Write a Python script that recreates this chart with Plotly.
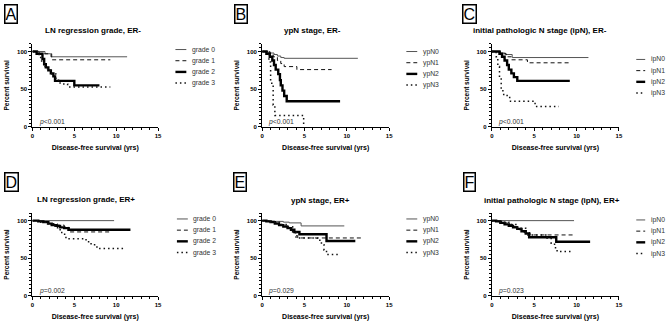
import plotly.graph_objects as go

FONT = "Liberation Sans, Arial, sans-serif"
W, H = 670, 324

# ---------------- text ----------------
panel_letters = ["A", "B", "C", "D", "E", "F"]
panel_titles = [
    "LN regression grade, ER-",
    "ypN stage, ER-",
    "initial pathologic N stage (ipN), ER-",
    "LN regression grade, ER+",
    "ypN stage, ER+",
    "initial pathologic N stage (ipN), ER+",
]
p_values = ["<0.001", "<0.001", "<0.001", "=0.002", "=0.029", "=0.023"]
grade_labels = ["grade 0", "grade 1", "grade 2", "grade 3"]
ypn_labels = ["ypN0", "ypN1", "ypN2", "ypN3"]
ipn_labels = ["ipN0", "ipN1", "ipN2", "ipN3"]
x_ticks = [0, 5, 10, 15]
y_ticks = [0, 50, 100]
x_title = "Disease-free survival (yrs)"
y_title = "Percent survival"

# ---------------- data (KM step points: time in yrs, survival %) ----------------
A_times = [
    [0, 1.5, 2.2, 11.3],
    [0, 0.8, 2.3, 9.3],
    [0, 0.5, 1.2, 1.4, 1.6, 1.9, 2.2, 2.5, 2.7, 5.0, 8.0],
    [0, 0.8, 1.1, 1.4, 1.8, 2.3, 2.8, 3.3, 4.2, 9.3],
]
A_surv = [
    [100, 97, 93, 93],
    [100, 97, 89, 89],
    [100, 97, 90, 83, 79, 75, 71, 67, 61, 55, 55],
    [100, 92, 85, 80, 75, 70, 62, 57, 53, 53],
]
B_times = [
    [0, 0.6, 1.0, 1.4, 1.8, 2.2, 2.6, 11.3],
    [0, 0.9, 1.3, 1.8, 2.2, 2.6, 4.1, 8.2],
    [0, 0.5, 0.9, 1.2, 1.4, 1.6, 1.9, 2.1, 2.2, 2.4, 2.6, 2.9, 9.2],
    [0, 0.8, 1.0, 1.3, 1.5, 4.9],
]
B_surv = [
    [100, 99, 98, 96, 94, 92, 91, 91],
    [100, 97, 93, 88, 84, 80, 76, 76],
    [100, 97, 93, 88, 82, 76, 70, 62, 55, 48, 41, 34, 34],
    [100, 86, 58, 29, 15, 0],
]
C_times = [
    [0, 1.0, 1.6, 2.4, 11.4],
    [0, 1.0, 1.7, 2.3, 4.2, 9.4],
    [0, 0.9, 1.2, 1.5, 1.8, 2.0, 2.3, 2.6, 3.0, 9.2],
    [0, 0.5, 0.7, 0.9, 1.1, 1.3, 1.8, 2.2, 5.1, 7.9],
]
C_surv = [
    [100, 98, 96, 92, 92],
    [100, 97, 93, 89, 85, 85],
    [100, 97, 93, 88, 82, 76, 71, 66, 61, 61],
    [100, 93, 80, 65, 50, 43, 39, 34, 27, 27],
]
D_times = [
    [0, 9.75],
    [0, 0.8, 1.5, 2.2, 3.0, 3.8, 4.4, 9.4],
    [0, 0.7, 1.3, 1.9, 2.3, 2.8, 3.3, 3.8, 4.3, 11.7],
    [0, 1.0, 1.8, 2.5, 3.0, 3.5, 4.0, 6.4, 7.0, 7.7, 11.0],
]
D_surv = [
    [100, 100],
    [100, 99, 98, 96, 94, 91, 85, 85],
    [100, 99, 98, 96, 94, 93, 91, 90, 88, 88],
    [100, 98, 96, 93, 88, 82, 76, 72, 68, 63, 63],
]
E_times = [
    [0, 0.8, 1.5, 2.5, 3.2, 4.6, 9.7],
    [0, 0.6, 1.2, 1.8, 2.4, 3.0, 3.5, 3.9, 4.2, 11.9],
    [0, 0.5, 1.0, 1.5, 2.0, 2.5, 3.0, 3.4, 3.8, 4.4, 7.6, 11.0],
    [0, 1.0, 2.0, 3.0, 3.6, 4.0, 6.5, 7.0, 7.3, 7.6, 9.1],
]
E_surv = [
    [100, 99.5, 99, 98, 97, 93, 93],
    [100, 99, 97, 95, 93, 90, 85, 80, 77, 77],
    [100, 99, 98, 96, 94, 92, 90, 88, 85, 82, 73, 73],
    [100, 98, 95, 92, 85, 77, 74, 68, 61, 55, 55],
]
F_times = [
    [0, 9.7],
    [0, 0.7, 1.3, 2.0, 2.6, 3.2, 3.8, 4.5, 9.75],
    [0, 0.5, 1.0, 1.5, 2.0, 2.5, 3.0, 3.5, 4.0, 4.4, 7.6, 11.6],
    [0, 1.0, 2.0, 3.0, 4.0, 6.5, 7.0, 7.4, 7.7, 9.3],
]
F_surv = [
    [100, 100],
    [100, 99, 97, 95, 92, 88, 84, 81, 81],
    [100, 99, 97, 95, 93, 91, 89, 86, 83, 78, 72, 72],
    [100, 98, 95, 90, 81, 77, 70, 64, 59, 59],
]

# ---------------- styles & layout geometry ----------------
series_styles = [
    dict(color="#555555", width=1.0, dash="solid"),
    dict(color="#111111", width=1.0, dash="4px,3px"),
    dict(color="#000000", width=2.4, dash="solid"),
    dict(color="#111111", width=1.5, dash="1.5px,3px"),
]

panels = [
    (A_times, A_surv, grade_labels),
    (B_times, B_surv, ypn_labels),
    (C_times, C_surv, ipn_labels),
    (D_times, D_surv, grade_labels),
    (E_times, E_surv, ypn_labels),
    (F_times, F_surv, ipn_labels),
]

col_x0 = [30.7, 262.5, 494.3]       # px of x=0
col_x15 = [157.5, 390.7, 622.5]     # px of x=15
row_y0 = [128.0, 298.7]             # px of y=0
row_y100 = [52.0, 222.7]            # px of y=100
Y_MAX = 110

title_pos = [(91.5, 31), (313.5, 31), (543, 31), (85, 201.5), (321, 202.5), (555, 202)]
letter_pos = [(9.5, 14), (240.8, 14), (471.3, 14), (9.3, 184), (240.6, 184), (471.3, 184)]
legend_pos = [(175, 50, 11), (408, 52, 11), (640, 60, 9), (176.5, 221, 11), (408, 221, 11), (640, 222, 9)]
LEG_GAP = 3.5
LEG_STEP = 11.3

fig = go.Figure()
axis_font = dict(family=FONT, size=6, color="black", weight="bold")

for i, (times, survs, labels) in enumerate(panels):
    r, c = divmod(i, 3)
    ax = "" if i == 0 else str(i + 1)
    x0, x15 = col_x0[c], col_x15[c]
    y0, y100 = row_y0[r], row_y100[r]
    ytop = y0 - (y0 - y100) * Y_MAX / 100
    xdom = [x0 / W, x15 / W]
    ydom = [(H - y0) / H, (H - ytop) / H]

    for k in range(4):
        st = series_styles[k]
        fig.add_trace(go.Scatter(
            x=times[k], y=survs[k], mode="lines", line_shape="hv",
            line=dict(color=st["color"], width=st["width"], dash=st["dash"]),
            name=labels[k], showlegend=False, cliponaxis=False,
            xaxis="x" + ax, yaxis="y" + ax,
        ))

    xa = dict(
        domain=xdom, anchor="y" + ax, range=[0, 15], tickvals=x_ticks,
        showline=True, linecolor="black", linewidth=1.2, ticks="outside",
        ticklen=3, tickwidth=1, tickcolor="black", tickfont=axis_font,
        showgrid=False, zeroline=False, fixedrange=True,
        minor=dict(dtick=1, ticks="outside", ticklen=2, tickcolor="black", tickwidth=0.8),
        title=dict(text=x_title, font=dict(family=FONT, size=7, color="black", weight="bold"), standoff=6),
    )
    ya = dict(
        domain=ydom, anchor="x" + ax, range=[0, Y_MAX], tickvals=y_ticks,
        showline=True, linecolor="black", linewidth=1.2, ticks="outside",
        ticklen=3, tickwidth=1, tickcolor="black", tickfont=axis_font,
        showgrid=False, zeroline=False, fixedrange=True,
        minor=dict(dtick=5, ticks="outside", ticklen=2, tickcolor="black", tickwidth=0.8),
        title=dict(text=y_title, font=dict(family=FONT, size=6.5, color="black", weight="bold"), standoff=6),
    )
    fig.update_layout(**{"xaxis" + ax: xa, "yaxis" + ax: ya})

    # panel title
    tx, ty = title_pos[i]
    fig.add_annotation(x=tx / W, y=1 - ty / H, xref="paper", yref="paper",
                       text=panel_titles[i], showarrow=False, xanchor="center", yanchor="middle",
                       font=dict(family=FONT, size=8, color="black", weight="bold"))
    # panel letter
    lx, ly = letter_pos[i]
    fig.add_annotation(x=lx / W, y=1 - ly / H, xref="paper", yref="paper",
                       text=panel_letters[i], showarrow=False, xanchor="center", yanchor="middle",
                       font=dict(family=FONT, size=16, color="black"),
                       bordercolor="black", borderwidth=1.5, borderpad=0)
    # p-value
    fig.add_annotation(x=0.5, y=6, xref="x" + ax, yref="y" + ax,
                       text="<i>p</i>" + p_values[i].replace("<", "&lt;"), showarrow=False,
                       xanchor="left", yanchor="middle",
                       font=dict(family=FONT, size=6.8, color="#333333"))
    # legend
    gx, gy, glen = legend_pos[i]
    for k in range(4):
        st = series_styles[k]
        yy = 1 - (gy + k * LEG_STEP) / H
        fig.add_shape(type="line", xref="paper", yref="paper",
                      x0=gx / W, x1=(gx + glen) / W, y0=yy, y1=yy,
                      line=dict(color=st["color"], width=st["width"], dash=st["dash"]))
        fig.add_annotation(x=(gx + glen + LEG_GAP) / W, y=yy, xref="paper", yref="paper",
                           text=labels[k], showarrow=False, xanchor="left", yanchor="middle",
                           font=dict(family=FONT, size=6.8, color="#333333"))

fig.update_layout(
    width=W, height=H, margin=dict(l=0, r=0, t=0, b=0),
    paper_bgcolor="white", plot_bgcolor="white", showlegend=False,
    font=dict(family=FONT, color="black"),
)

fig.write_html("out.html", config={"displayModeBar": False},
               post_script="document.body.style.margin='0px';")
